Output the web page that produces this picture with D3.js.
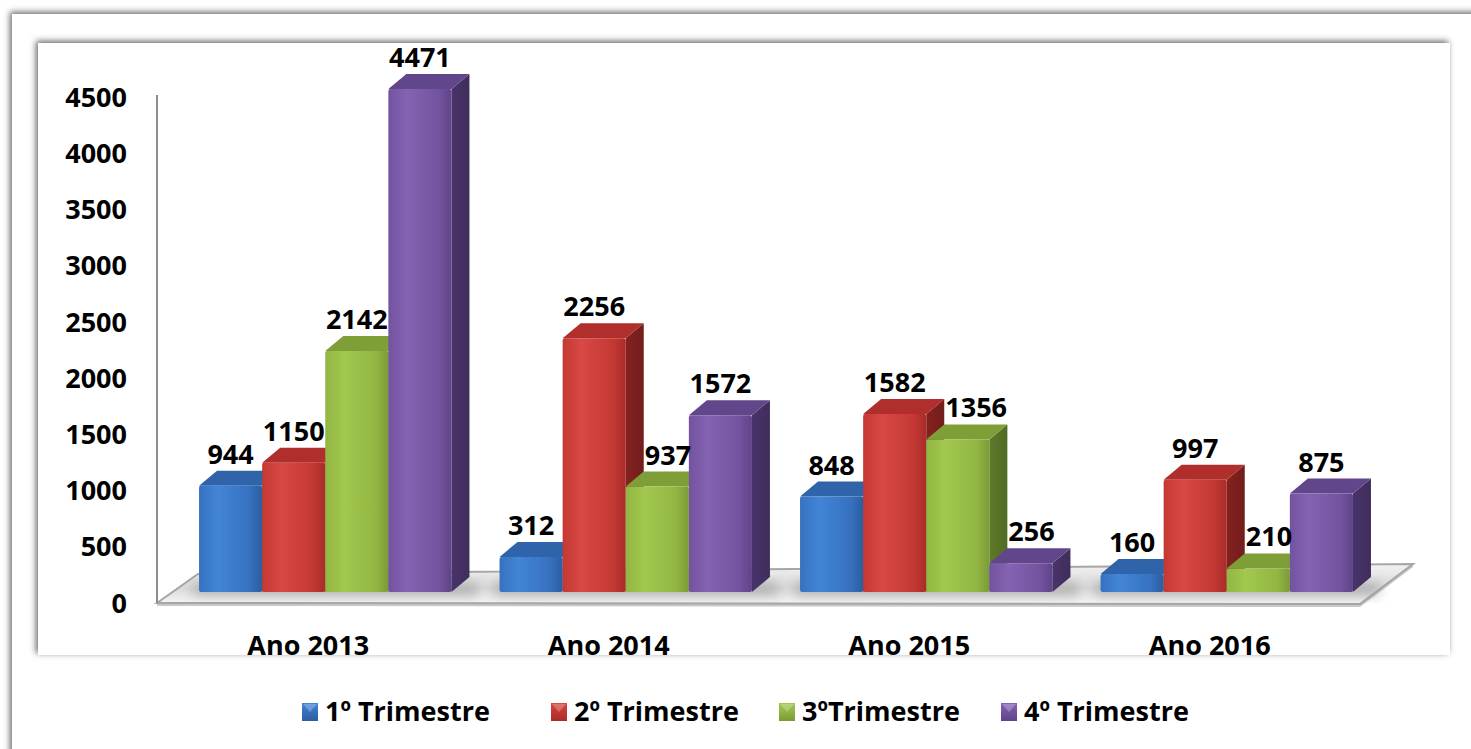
<!DOCTYPE html>
<html>
<head>
<meta charset="utf-8">
<script src="https://cdn.jsdelivr.net/npm/d3@7"></script>
<style>
  html, body { margin: 0; padding: 0; background: #fff; }
  svg text { font-family: "Open Sans", "Liberation Sans", sans-serif; font-weight: 700; fill: #000; }
</style>
</head>
<body>
<svg id="chart" width="1471" height="749"></svg>
<script>
(function () {
    "use strict";

    // chart values
    var categories = ["Ano 2013", "Ano 2014", "Ano 2015", "Ano 2016"];
    var seriesNames = ["1º Trimestre", "2º Trimestre", "3ºTrimestre", "4º Trimestre"];
    var trim1 = [944, 312, 848, 160];
    var trim2 = [1150, 2256, 1582, 997];
    var trim3 = [2142, 937, 1356, 210];
    var trim4 = [4471, 1572, 256, 875];
    var yTicks = [0, 500, 1000, 1500, 2000, 2500, 3000, 3500, 4000, 4500];

    var seriesValues = [trim1, trim2, trim3, trim4];

    // front / top / side colours for each series
    var palette = [
        { light: "#4285d6", front: "#3771c0", dark: "#2c5d9f", top: "#2f64aa", side: "#244c84" },
        { light: "#d84844", front: "#c43834", dark: "#a82c29", top: "#b02e2b", side: "#842220" },
        { light: "#a2c84e", front: "#92b643", dark: "#7b9b36", top: "#7e9f38", side: "#5e7a29" },
        { light: "#8463b2", front: "#7353a0", dark: "#5f4487", top: "#62468c", side: "#49346a" }
    ];

    var svg = d3.select("#chart");
    var defs = svg.append("defs");

    // soft shadow used for the two frames
    var shadow = defs.append("filter").attr("id", "frameShadow")
        .attr("x", "-5%").attr("y", "-5%").attr("width", "110%").attr("height", "110%");
    shadow.append("feDropShadow")
        .attr("dx", -2).attr("dy", -2)
        .attr("stdDeviation", 3)
        .attr("flood-color", "#555")
        .attr("flood-opacity", 0.9);

    var softShadow = defs.append("filter").attr("id", "floorShadow")
        .attr("x", "-10%").attr("y", "-50%").attr("width", "120%").attr("height", "200%");
    softShadow.append("feGaussianBlur").attr("stdDeviation", 6);

    // gradients for bar faces
    palette.forEach(function (c, i) {
        var g = defs.append("linearGradient").attr("id", "front" + i)
            .attr("x1", 0).attr("x2", 1).attr("y1", 0).attr("y2", 0);
        g.append("stop").attr("offset", "0%").attr("stop-color", c.front);
        g.append("stop").attr("offset", "30%").attr("stop-color", c.light);
        g.append("stop").attr("offset", "80%").attr("stop-color", c.front);
        g.append("stop").attr("offset", "100%").attr("stop-color", c.dark);

        var s = defs.append("linearGradient").attr("id", "side" + i)
            .attr("x1", 0).attr("x2", 1).attr("y1", 0).attr("y2", 0);
        s.append("stop").attr("offset", "0%").attr("stop-color", c.side);
        s.append("stop").attr("offset", "100%").attr("stop-color", d3.color(c.side).darker(0.4));

        var lg = defs.append("linearGradient").attr("id", "legend" + i)
            .attr("x1", 0).attr("x2", 0).attr("y1", 0).attr("y2", 1);
        lg.append("stop").attr("offset", "0%").attr("stop-color", c.light);
        lg.append("stop").attr("offset", "45%").attr("stop-color", c.front);
        lg.append("stop").attr("offset", "100%").attr("stop-color", c.dark);
    });

    var floorGrad = defs.append("linearGradient").attr("id", "floorGrad")
        .attr("x1", 0).attr("x2", 0).attr("y1", 0).attr("y2", 1);
    floorGrad.append("stop").attr("offset", "0%").attr("stop-color", "#f2f2f2");
    floorGrad.append("stop").attr("offset", "60%").attr("stop-color", "#d9d9d9");
    floorGrad.append("stop").attr("offset", "100%").attr("stop-color", "#f7f7f7");

    // outer and inner frames
    svg.append("rect")
        .attr("x", 12).attr("y", 14)
        .attr("width", 1520).attr("height", 800)
        .attr("fill", "#fff")
        .attr("filter", "url(#frameShadow)");

    svg.append("rect")
        .attr("x", 38).attr("y", 43)
        .attr("width", 1412).attr("height", 612)
        .attr("fill", "#fff")
        .attr("filter", "url(#frameShadow)");

    // scales
    var depthX = 18, depthY = 15;
    var barBase = 592;

    var x0 = d3.scaleBand()
        .domain(categories)
        .range([175, 1377])
        .paddingInner(0.16)
        .paddingOuter(0.08);

    var x1 = d3.scaleBand()
        .domain(seriesNames)
        .range([0, x0.bandwidth()])
        .padding(0);

    var y = d3.scaleLinear()
        .domain([0, 4500])
        .range([barBase, barBase - 0.1125 * 4500]);

    // axis labels sit on a slightly lower baseline than the bars
    var yAxisScale = d3.scaleLinear()
        .domain([0, 4500])
        .range([603, 97]);

    // floor (3D plate)
    var floorFront = yAxisScale(0);
    var floorPts = [[157, floorFront], [1360, floorFront + 1], [1413, 564], [198, 574]];
    svg.append("polygon")
        .attr("points", [[157, floorFront + 3], [1360, floorFront + 4], [1413, 567], [1413, 564], [1360, floorFront + 1], [157, floorFront]].join(" "))
        .attr("fill", "#c8c8c8");
    svg.append("polygon")
        .attr("points", floorPts.join(" "))
        .attr("fill", "url(#floorGrad)")
        .attr("stroke", "#a6a6a6")
        .attr("stroke-width", 2);

    // shadow of bars on floor
    categories.forEach(function (cat) {
        svg.append("rect")
            .attr("x", x0(cat) - 6)
            .attr("y", barBase - 10)
            .attr("width", x0.bandwidth() + depthX + 14)
            .attr("height", 14)
            .attr("fill", "#9a9a9a")
            .attr("opacity", 0.6)
            .attr("filter", "url(#floorShadow)");
    });

    // y axis line
    svg.append("line")
        .attr("x1", 157).attr("x2", 157)
        .attr("y1", yAxisScale(4500) - 2).attr("y2", floorFront)
        .attr("stroke", "#8c8c8c")
        .attr("stroke-width", 2);

    svg.append("g").selectAll("text")
        .data(yTicks)
        .join("text")
        .attr("x", 127)
        .attr("y", function (d) { return yAxisScale(d); })
        .attr("dy", "0.36em")
        .attr("text-anchor", "end")
        .attr("font-size", 27)
        .text(function (d) { return d; });

    // build flat bar list
    var bars = [];
    categories.forEach(function (cat, ci) {
        seriesNames.forEach(function (s, si) {
            bars.push({
                cat: cat, series: s, si: si, value: seriesValues[si][ci],
                prev: si > 0 ? seriesValues[si - 1][ci] : null
            });
        });
    });

    var barG = svg.append("g");
    bars.forEach(function (b) {
        var left = x0(b.cat) + x1(b.series);
        var w = x1.bandwidth();
        var right = left + w;
        var top = y(b.value);
        var g = barG.append("g");

        // side face
        g.append("polygon")
            .attr("points", [[right, barBase], [right + depthX, barBase - depthY],
                [right + depthX, top - depthY], [right, top]].join(" "))
            .attr("fill", "url(#side" + b.si + ")");
        // top face
        g.append("polygon")
            .attr("points", [[left, top], [left + depthX, top - depthY],
                [right + depthX, top - depthY], [right, top]].join(" "))
            .attr("fill", palette[b.si].top);
        // front face
        g.append("rect")
            .attr("x", left)
            .attr("y", top)
            .attr("width", w)
            .attr("height", barBase - top)
            .attr("rx", 2)
            .attr("fill", "url(#front" + b.si + ")");
    });

    // value labels, nudged right when the bar on the left is taller
    var labels = svg.append("g").selectAll("text")
        .data(bars)
        .join("text")
        .attr("x", function (d) { return x0(d.cat) + x1(d.series) + x1.bandwidth() / 2; })
        .attr("y", function (d) { return y(d.value) - 22; })
        .attr("text-anchor", "middle")
        .attr("font-size", 27)
        .text(function (d) { return d.value; });

    labels.each(function (d) {
        if (d.prev === null) return;
        var baseline = y(d.value) - 22;
        if (y(d.prev) - depthY > baseline) return;
        var half = this.getComputedTextLength() / 2;
        var cx = x0(d.cat) + x1(d.series) + x1.bandwidth() / 2;
        var minLeft = x0(d.cat) + x1(d.series) + depthX + 1;
        if (cx - half < minLeft) d3.select(this).attr("x", minLeft + half);
    });

    // category labels
    svg.append("g").selectAll("text")
        .data(categories)
        .join("text")
        .attr("x", function (d) { return x0(d) + x0.bandwidth() / 2 - 17; })
        .attr("y", 655)
        .attr("text-anchor", "middle")
        .attr("font-size", 27)
        .text(function (d) { return d; });

    // legend
    var legendX = [302, 551, 779, 1001];
    var legend = svg.append("g").selectAll("g")
        .data(seriesNames)
        .join("g")
        .attr("transform", function (d, i) { return "translate(" + legendX[i] + ",703)"; });

    legend.append("rect")
        .attr("width", 16).attr("height", 18)
        .attr("fill", function (d, i) { return "url(#legend" + i + ")"; });
    legend.append("path")
        .attr("d", "M1,1 L15,1 L8,9 Z")
        .attr("fill", "#fff")
        .attr("opacity", 0.25);
    legend.append("text")
        .attr("x", 23)
        .attr("y", 18)
        .attr("font-size", 27)
        .text(function (d) { return d; });
})();
</script>
</body>
</html>
